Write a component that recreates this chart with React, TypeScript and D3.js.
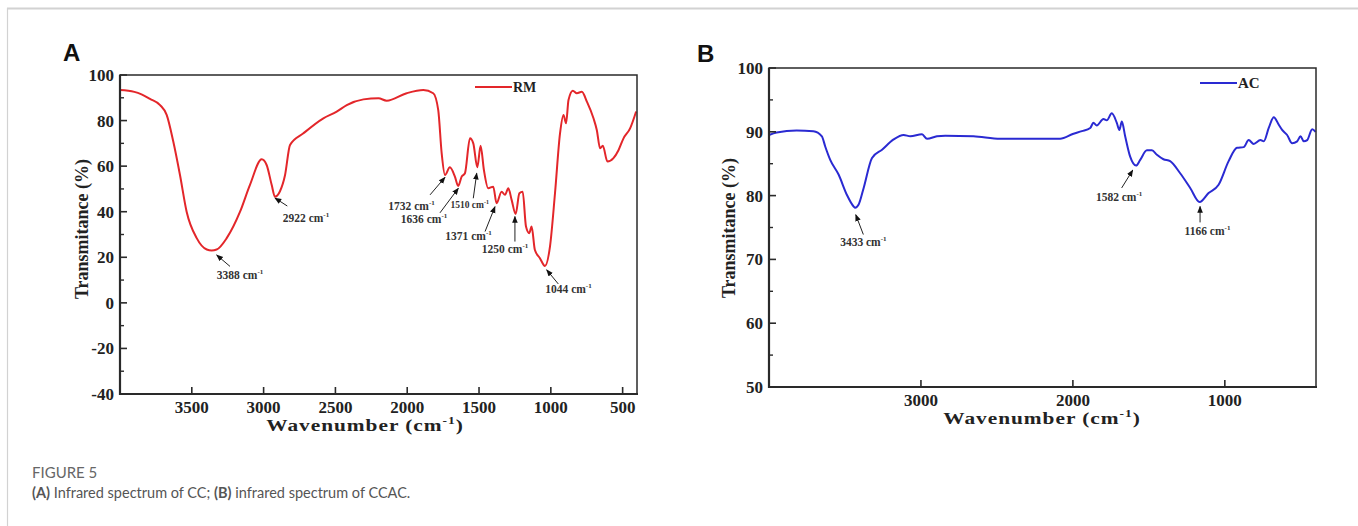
import React from "react";
import * as d3 from "d3";

// ---------- Panel A (RM) data ----------
const rmWavenumber = [4000, 3900, 3850, 3791, 3721, 3675, 3629, 3582, 3536, 3466, 3396, 3362, 3327, 3257, 3164, 3095, 3013, 2979, 2944, 2921, 2886, 2851, 2816, 2723, 2584, 2491, 2421, 2305, 2200, 2143, 2004, 1888, 1819, 1784, 1760, 1737, 1703, 1668, 1645, 1621, 1598, 1563, 1540, 1512, 1489, 1466, 1436, 1401, 1378, 1343, 1319, 1296, 1273, 1245, 1219, 1196, 1173, 1150, 1134, 1111, 1076, 1041, 1006, 971, 936, 912, 894, 877, 847, 819, 784, 749, 703, 680, 657, 638, 606, 564, 529, 494, 448, 406];
const rmTransmittance = [93.4, 92.6, 91.5, 89.5, 86.8, 82.5, 70.8, 56, 40, 28.4, 23.4, 23, 23.4, 28.4, 40, 51.8, 63, 60.5, 51.8, 46.6, 49, 56, 69.3, 74.4, 81, 83.9, 86.8, 89.3, 89.8, 88.7, 92, 93.4, 92, 84.6, 65.6, 56.1, 59.5, 55.4, 51.3, 55.4, 56.9, 72.2, 70, 59.5, 68.9, 58.3, 50.3, 51, 43.7, 48.8, 47.4, 50.3, 45.2, 39, 48.1, 48.8, 33.5, 30.6, 33.5, 23.2, 19.6, 16.2, 24.7, 48.1, 74.4, 82.5, 78.8, 89, 93.1, 92, 92.6, 88.3, 81, 75.9, 67.8, 69, 62, 63.5, 67, 72.2, 76.6, 84];
const rmXTicks = [3500, 3000, 2500, 2000, 1500, 1000, 500];
const rmYTicks = [-40, -20, 0, 20, 40, 60, 80, 100];
const rmYMinor = [-30, -10, 10, 30, 50, 70, 90];
const rmLabels = ["3388", "2922", "1732", "1636", "1510", "1371", "1250", "1044"];
const rmTip = [[3327, 21], [2921, 46], [1737, 55.1], [1644, 50.3], [1516, 56.9], [1389, 42.2], [1250, 37.9], [1029, 14.5]];
const rmTail = [[3234, 16], [2835, 42.5], [1841, 47.4], [1772, 39.5], [1540, 45.9], [1458, 31.3], [1250, 26.9], [948, 8.3]];
const rmText = [[3164, 10.5], [2705, 35.5], [1970, 40.8], [1883, 35.1], [1565, 41.7], [1573, 27.6], [1319, 21.8], [877, 4.4]];

// ---------- Panel B (AC) data ----------
const acWavenumber = [4000, 3949, 3818, 3708, 3652, 3630, 3597, 3542, 3487, 3443, 3433, 3410, 3377, 3322, 3256, 3180, 3114, 3070, 2993, 2960, 2895, 2840, 2654, 2478, 2259, 2084, 1996, 1941, 1886, 1865, 1843, 1799, 1777, 1744, 1711, 1694, 1678, 1656, 1623, 1584, 1557, 1513, 1480, 1447, 1404, 1360, 1294, 1228, 1166, 1107, 1041, 975, 920, 876, 843, 810, 766, 744, 711, 678, 645, 623, 590, 557, 524, 502, 480, 458, 425, 403];
const acTransmittance = [89.5, 89.9, 90.2, 90.1, 89.3, 87.7, 85.6, 83.3, 80.1, 78.3, 78.1, 78.6, 81.2, 85.9, 87.2, 88.8, 89.5, 89.3, 89.6, 88.9, 89.3, 89.4, 89.3, 88.9, 88.9, 88.9, 89.7, 90.1, 90.6, 91.4, 91, 92, 91.8, 92.9, 91.4, 90.3, 91.6, 89.3, 86.1, 84.7, 85.6, 87.1, 87.1, 86.4, 85.7, 85.4, 83.5, 81.2, 79.0, 80.4, 81.7, 85.4, 87.5, 87.6, 88.7, 88.1, 88.7, 88.5, 90.6, 92.3, 91.1, 90.3, 89.5, 88.2, 88.5, 89.3, 88.5, 88.7, 90.4, 90];
const acXTicks = [3000, 2000, 1000];
const acYTicks = [50, 60, 70, 80, 90, 100];
const acYMinor = [55, 65, 75, 85, 95];
const acLabels = ["3433", "1582", "1166"];
const acTip = [[3429, 77.0], [1606, 84.0], [1163, 78.3]];
const acTail = [[3379, 73.9], [1679, 81.2], [1163, 75.8]];
const acText = [[3379, 72.1], [1696, 79.1], [1114, 73.9]];

const SERIF = "'Liberation Serif', 'Times New Roman', serif";
const AXIS = "#2a2a2a";

type PanelProps = {
  id: string;
  letter: string;
  letterPos: [number, number];
  box: [number, number, number, number];
  yDomain: [number, number];
  xs: number[];
  ys: number[];
  color: string;
  xTicks: number[];
  yTicks: number[];
  yMinor: number[];
  labels: string[];
  tips: number[][];
  tails: number[][];
  texts: number[][];
  smallIdx?: number;
  legend: string;
  legendPos: [number, number];
  legendFont: number;
  xLabelBaseline: number;
  xTitlePos: [number, number];
  yTitlePos: [number, number];
  tickFont: number;
};

function Panel(p: PanelProps) {
  const [l, t, r, b] = p.box;
  const x = d3.scaleLinear().domain([4000, 400]).range([l, r]);
  const y = d3.scaleLinear().domain(p.yDomain).range([b, t]);
  const pts: [number, number][] = p.xs.map((w, i) => [x(w), y(p.ys[i])]);
  pts.sort((a, c) => a[0] - c[0]);
  const line = d3.line().curve(d3.curveMonotoneX)(pts) || "";
  const markerId = `arrow-${p.id}`;
  return (
    <g>
      <defs>
        <marker id={markerId} viewBox="0 0 10 10" refX="9" refY="5" markerWidth="7" markerHeight="7" orient="auto-start-reverse" markerUnits="userSpaceOnUse">
          <path d="M0,1 L10,5 L0,9 z" fill="#111" />
        </marker>
      </defs>
      <text x={p.letterPos[0]} y={p.letterPos[1]} fontFamily="'Liberation Sans', Arial, sans-serif" fontWeight="bold" fontSize={24} fill="#111">{p.letter}</text>
      <path d={line} fill="none" stroke={p.color} strokeWidth={2} strokeLinejoin="round" />
      <rect x={l} y={t} width={r - l} height={b - t} fill="none" stroke={AXIS} strokeWidth={1.5} />
      <line x1={l} y1={t} x2={l} y2={b + 1} stroke={AXIS} strokeWidth={2.2} />
      <line x1={l - 1} y1={b} x2={r + 1} y2={b} stroke={AXIS} strokeWidth={2.2} />
      {p.yTicks.map((v) => (
        <g key={"y" + v}>
          <line x1={l} x2={l + 7} y1={y(v)} y2={y(v)} stroke={AXIS} strokeWidth={1.6} />
          <text x={l - 6} y={y(v)} dy="0.35em" textAnchor="end" fontFamily={SERIF} fontWeight="bold" fontSize={p.tickFont} fill="#222">{v}</text>
        </g>
      ))}
      {p.yMinor.map((v) => (
        <line key={"ym" + v} x1={l} x2={l + 4} y1={y(v)} y2={y(v)} stroke={AXIS} strokeWidth={1.4} />
      ))}
      {p.xTicks.map((w) => (
        <g key={"x" + w}>
          <line x1={x(w)} x2={x(w)} y1={b} y2={b - 7} stroke={AXIS} strokeWidth={1.6} />
          <text x={x(w)} y={p.xLabelBaseline} textAnchor="middle" fontFamily={SERIF} fontWeight="bold" fontSize={p.tickFont} fill="#222">{w}</text>
        </g>
      ))}
      <text transform={`translate(${p.xTitlePos[0]},${p.xTitlePos[1]}) scale(1.22,1)`} textAnchor="middle" fontFamily={SERIF} fontWeight="bold" fontSize={17.5} letterSpacing={0.8} fill="#222">
        Wavenumber (cm<tspan fontSize={11} dy={-7}>-1</tspan><tspan dy={7}>)</tspan>
      </text>
      <text transform={`translate(${p.yTitlePos[0]},${p.yTitlePos[1]}) rotate(-90)`} textAnchor="middle" fontFamily={SERIF} fontWeight="bold" fontSize={18} fill="#222">
        Transmitance (%)
      </text>
      <line x1={p.legendPos[0]} x2={p.legendPos[0] + 37} y1={p.legendPos[1]} y2={p.legendPos[1]} stroke={p.color} strokeWidth={2} />
      <text x={p.legendPos[0] + 38} y={p.legendPos[1] + 5} fontFamily={SERIF} fontWeight="bold" fontSize={p.legendFont} fill="#222">{p.legend}</text>
      {p.labels.map((lab, i) => {
        const small = p.smallIdx === i;
        return (
          <g key={"a" + lab}>
            <line x1={x(p.tails[i][0])} y1={y(p.tails[i][1])} x2={x(p.tips[i][0])} y2={y(p.tips[i][1])} stroke="#222" strokeWidth={1} markerEnd={`url(#${markerId})`} />
            <text x={x(p.texts[i][0])} y={y(p.texts[i][1])} textAnchor="middle" fontFamily={SERIF} fontWeight="bold" fontSize={small ? 9.5 : 11.5} fill="#333">
              {lab} cm<tspan fontSize={small ? 6 : 7} dy={small ? -4 : -5}>-1</tspan>
            </text>
          </g>
        );
      })}
    </g>
  );
}

export default function App() {
  return (
    <svg width={1358} height={526} style={{ position: "absolute", left: 0, top: 0, background: "#fff" }}>
      <rect x={0} y={0} width={1358} height={526} fill="#fff" />
      <line x1={7} y1={8.5} x2={1358} y2={8.5} stroke="#d2d2d2" strokeWidth={2} />
      <line x1={7.5} y1={8} x2={7.5} y2={526} stroke="#d2d2d2" strokeWidth={1.2} />
      <Panel
        id="A"
        letter="A"
        letterPos={[63, 61]}
        box={[120, 75, 637, 394]}
        yDomain={[-40, 100]}
        xs={rmWavenumber}
        ys={rmTransmittance}
        color="#e3262a"
        xTicks={rmXTicks}
        yTicks={rmYTicks}
        yMinor={rmYMinor}
        labels={rmLabels}
        tips={rmTip}
        tails={rmTail}
        texts={rmText}
        smallIdx={4}
        legend="RM"
        legendPos={[475, 87]}
        legendFont={14}
        xLabelBaseline={413}
        xTitlePos={[365, 431]}
        yTitlePos={[88, 229]}
        tickFont={17}
      />
      <Panel
        id="B"
        letter="B"
        letterPos={[697, 62]}
        box={[769, 68, 1316, 387]}
        yDomain={[50, 100]}
        xs={acWavenumber}
        ys={acTransmittance}
        color="#2a2ad2"
        xTicks={acXTicks}
        yTicks={acYTicks}
        yMinor={acYMinor}
        labels={acLabels}
        tips={acTip}
        tails={acTail}
        texts={acText}
        legend="AC"
        legendPos={[1200, 83]}
        legendFont={15}
        xLabelBaseline={406}
        xTitlePos={[1042, 424]}
        yTitlePos={[735, 228]}
        tickFont={17}
      />
      <text x={32} y={478} fontFamily="Lato, 'Open Sans', sans-serif" fontSize={15} fill="#666">FIGURE 5</text>
      <text x={32} y={498} fontFamily="Lato, 'Open Sans', sans-serif" fontSize={14.5} fill="#555">
        <tspan fontWeight="bold">(A)</tspan> Infrared spectrum of CC; <tspan fontWeight="bold">(B)</tspan> infrared spectrum of CCAC.
      </text>
    </svg>
  );
}
